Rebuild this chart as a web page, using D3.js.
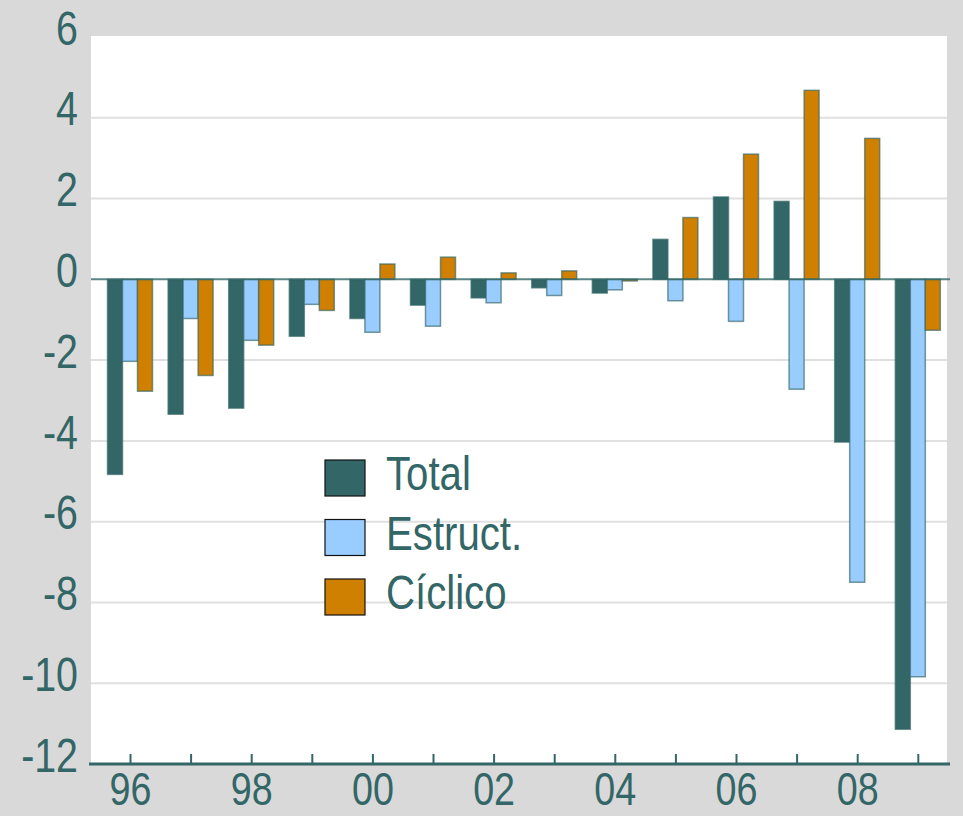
<!DOCTYPE html>
<html><head><meta charset="utf-8">
<script src="https://cdn.jsdelivr.net/npm/d3@7"></script>
<style>
html,body{margin:0;padding:0;background:#d9d9d9;}
svg{display:block;}
text{font-family:"Liberation Sans Narrow","Arial Narrow","Liberation Sans",Arial,sans-serif;fill:#336666;}
</style></head>
<body>
<script>
const years = ["96","97","98","99","00","01","02","03","04","05","06","07","08","09"];
const tickLabels = ["96","","98","","00","","02","","04","","06","","08",""];
const seriesNames = ["Total","Estruct.","Cíclico"];
const total   = [-4.83,-3.34,-3.19,-1.41,-0.97,-0.64,-0.46,-0.21,-0.34, 0.99, 2.04, 1.93,-4.03,-11.14];
const estruct = [-2.03,-0.97,-1.51,-0.62,-1.31,-1.16,-0.58,-0.40,-0.26,-0.53,-1.04,-2.72,-7.50,-9.84];
const ciclico = [-2.77,-2.38,-1.63,-0.77, 0.38, 0.55, 0.16, 0.21,-0.04, 1.53, 3.10, 4.68, 3.49,-1.26];
const yTicks = [-12,-10,-8,-6,-4,-2,0,2,4,6];
const colors = ["#336666","#99ccff","#d08000"];

const W = 963, H = 816;
const NARROW = "scale(0.82,1)";
const svg = d3.select("body").append("svg").attr("width", W).attr("height", H);
svg.append("rect").attr("width", W).attr("height", H).attr("fill", "#d9d9d9");

const plot = {x0: 91, x1: 947, y0: 36, y1: 764};
const y = d3.scaleLinear().domain([-12, 6]).range([764, 37]);
const x = d3.scaleBand().domain(years).range([99.7, 948.1]).paddingInner(0.25).paddingOuter(0.125);
const xcenter = d => x(d) + x.bandwidth() / 2;
const groupW = 45;
const xs = d3.scaleBand().domain(seriesNames).range([-groupW / 2, groupW / 2]);

svg.append("rect").attr("x", plot.x0).attr("y", plot.y0).attr("width", plot.x1 - plot.x0).attr("height", plot.y1 - plot.y0).attr("fill", "#ffffff");

// gridlines
svg.append("g").selectAll("line").data(yTicks.filter(t => t > -12 && t < 6 && t !== 0)).join("line")
  .attr("x1", plot.x0).attr("x2", plot.x1)
  .attr("y1", d => y(d)).attr("y2", d => y(d))
  .attr("stroke", "#e0e0e0").attr("stroke-width", 2);

// bars
const data = [];
years.forEach((yr, i) => {
  [total, estruct, ciclico].forEach((arr, j) => data.push({yr, s: seriesNames[j], v: arr[i], c: colors[j]}));
});
svg.append("g").selectAll("rect").data(data).join("rect")
  .attr("x", d => xcenter(d.yr) + xs(d.s))
  .attr("width", xs.bandwidth())
  .attr("y", d => Math.min(y(d.v), y(0)))
  .attr("height", d => Math.abs(y(d.v) - y(0)))
  .attr("fill", d => d.c)
  .attr("stroke", "#336666").attr("stroke-opacity", 0.65).attr("stroke-width", 1.5);

// zero line
svg.append("line").attr("x1", plot.x0).attr("x2", plot.x1 + 3).attr("y1", y(0)).attr("y2", y(0))
  .attr("stroke", "#336666").attr("stroke-opacity", 0.8).attr("stroke-width", 2);

// y axis labels
const yAxis = d3.axisLeft(y).tickValues(yTicks).tickSize(0).tickPadding(0).tickFormat(d3.format("d"));
const gy = svg.append("g").attr("transform", "translate(78,0)").call(yAxis);
gy.select(".domain").remove();
gy.selectAll("text").attr("font-size", 48).attr("fill", "#336666").attr("dy", "0.15em")
  .attr("transform", NARROW).text(d => d < 0 ? "-" + Math.abs(d) : d);

// x axis
const xAxis = d3.axisBottom(d3.scalePoint().domain(years).range([xcenter(years[0]), xcenter(years[years.length-1])]))
  .tickSize(-10).tickPadding(8).tickFormat((d, i) => tickLabels[i]);
const gx = svg.append("g").attr("transform", `translate(0,${y(-12)})`).call(xAxis);
gx.select(".domain").attr("d", `M${plot.x0 - 2},0H${plot.x1 + 3}`).attr("stroke", "#336666").attr("stroke-width", 3);
gx.selectAll(".tick line").attr("stroke", "#336666").attr("stroke-width", 2);
gx.selectAll("text").attr("font-size", 46).attr("fill", "#336666").attr("dy", "0.72em")
  .attr("transform", NARROW);

// legend
const leg = svg.append("g").attr("transform", "translate(325,460)");
seriesNames.forEach((s, i) => {
  const g = leg.append("g").attr("transform", `translate(0,${i * 59.5})`);
  g.append("rect").attr("width", 40).attr("height", 36).attr("fill", colors[i]).attr("stroke", "#111").attr("stroke-width", 1.2);
  g.append("text").attr("transform", `translate(61,30) ${NARROW}`).attr("font-size", 49).attr("fill", "#336666").text(s);
});
</script>
</body></html>
